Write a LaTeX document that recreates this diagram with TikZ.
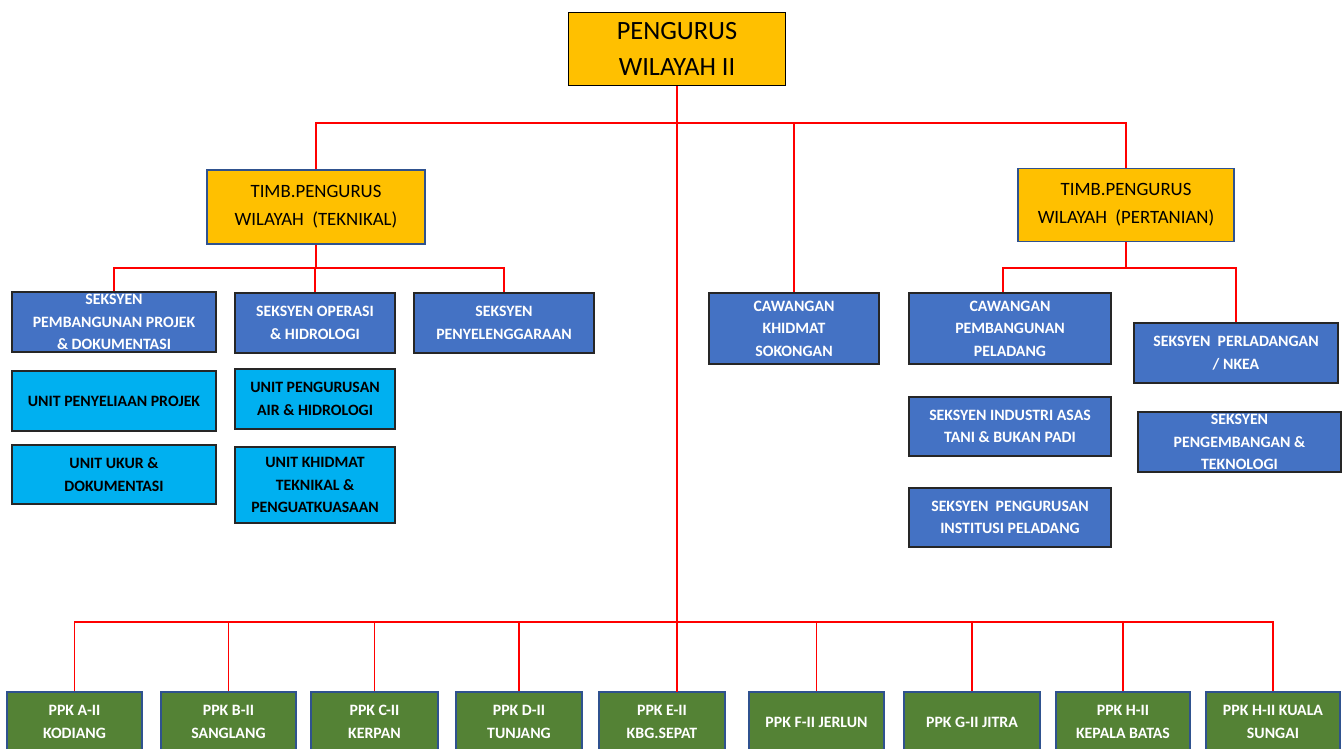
\documentclass[tikz,border=0pt]{standalone}
\usepackage{fontspec}
\setmainfont{Carlito}
\definecolor{gold}{HTML}{FFC000}
\definecolor{bluebox}{HTML}{4472C4}
\definecolor{cyanbox}{HTML}{00B0F0}
\definecolor{greenbox}{HTML}{548235}
\definecolor{navyline}{HTML}{2F528F}
\tikzstyle{head} = [rectangle, draw=black, line width=1pt, fill=gold, align=center, font=\fontsize{15}{21}\selectfont]
\tikzstyle{deputy} = [rectangle, draw=navyline, line width=1pt, fill=gold, align=center, font=\fontsize{10.7}{16}\selectfont]
\tikzstyle{seksyen} = [rectangle, draw=black!85, line width=1pt, fill=bluebox, text=white, align=center, font=\bfseries\fontsize{9}{12.8}\selectfont]
\tikzstyle{unit} = [rectangle, draw=black!85, line width=1pt, fill=cyanbox, text=black, align=center, font=\bfseries\fontsize{9}{12.8}\selectfont]
\tikzstyle{ppk} = [rectangle, draw=navyline, line width=1pt, fill=greenbox, text=white, align=center, minimum height=1.2cm, font=\bfseries\fontsize{9}{12.8}\selectfont]
\tikzstyle{link} = [red, line width=1pt]

\begin{document}
\begin{tikzpicture}[x=0.02cm,y=-0.02cm]
\useasboundingbox (0,0) rectangle (1343,749);
% top level
\node[head, minimum width=4.34cm, minimum height=1.46cm] (pw) at (677,49) {PENGURUS\\WILAYAH II};
\node[deputy, minimum width=4.36cm, minimum height=1.48cm] (tl) at (316,207) {TIMB.PENGURUS\\WILAYAH\ \ (TEKNIKAL)};
\node[deputy, minimum width=4.32cm, minimum height=1.46cm] (tr) at (1126,205) {TIMB.PENGURUS\\WILAYAH\ \ (PERTANIAN)};
\node[seksyen, minimum width=3.4cm, minimum height=1.42cm] (ck) at (794,328.5) {CAWANGAN\\KHIDMAT\\SOKONGAN};
% teknikal
\node[seksyen, inner ysep=0pt, minimum width=4.08cm, minimum height=1.2cm] (s1) at (114,322) {SEKSYEN\\PEMBANGUNAN PROJEK\\\& DOKUMENTASI};
\node[seksyen, minimum width=3.2cm, minimum height=1.2cm] (s2) at (315,323) {SEKSYEN OPERASI\\\& HIDROLOGI};
\node[seksyen, minimum width=3.6cm, minimum height=1.2cm] (s3) at (504,323) {SEKSYEN\\PENYELENGGARAAN};
\node[unit, minimum width=4.08cm, minimum height=1.2cm] (u1) at (114,401) {UNIT PENYELIAAN PROJEK};
\node[unit, minimum width=4.08cm, minimum height=1.18cm] (u2) at (114,474.5) {UNIT UKUR \&\\DOKUMENTASI};
\node[unit, minimum width=3.2cm, minimum height=1.2cm] (u3) at (315,399) {UNIT PENGURUSAN\\AIR \& HIDROLOGI};
\node[unit, minimum width=3.2cm, minimum height=1.52cm] (u4) at (315,485) {UNIT KHIDMAT\\TEKNIKAL \&\\PENGUATKUASAAN};
% pertanian
\node[seksyen, minimum width=4.04cm, minimum height=1.42cm] (cp) at (1010,328.5) {CAWANGAN\\PEMBANGUNAN\\PELADANG};
\node[seksyen, minimum width=4.08cm, minimum height=1.2cm] (sp) at (1236,353) {SEKSYEN\ \ PERLADANGAN\\/ NKEA};
\node[seksyen, minimum width=4.04cm, minimum height=1.18cm] (si) at (1010,426.5) {SEKSYEN INDUSTRI ASAS\\TANI \& BUKAN PADI};
\node[seksyen, minimum width=4.04cm, minimum height=1.18cm] (sn) at (1010,517.5) {SEKSYEN\ \ PENGURUSAN\\INSTITUSI PELADANG};
\node[seksyen, inner ysep=0pt, minimum width=4.06cm, minimum height=1.2cm] (sg) at (1239.5,442) {SEKSYEN\\PENGEMBANGAN \&\\TEKNOLOGI};
% ppk row
\node[ppk, minimum width=2.7cm] (pa) at (74.5,722) {PPK A-II\\KODIANG};
\node[ppk, minimum width=2.7cm] (pb) at (228.5,722) {PPK B-II\\SANGLANG};
\node[ppk, minimum width=2.54cm] (pc) at (374.5,722) {PPK C-II\\KERPAN};
\node[ppk, minimum width=2.52cm] (pd) at (519,722) {PPK D-II\\TUNJANG};
\node[ppk, minimum width=2.52cm] (pe) at (662,722) {PPK E-II\\KBG.SEPAT};
\node[ppk, minimum width=2.7cm] (pf) at (816.5,722) {PPK F-II JERLUN};
\node[ppk, minimum width=2.72cm] (pg) at (972,722) {PPK G-II JITRA};
\node[ppk, minimum width=2.68cm] (ph) at (1123,722) {PPK H-II\\KEPALA BATAS};
\node[ppk, minimum width=2.68cm] (pk) at (1273,722) {PPK H-II KUALA\\SUNGAI};
% red lines
\coordinate (tbus) at (0,123);
\coordinate (lbus) at (0,268);
\coordinate (rbus) at (0,268);
\coordinate (bbus) at (0,622);
\coordinate (trunk) at (677,692);
\draw[link] (pw.south) -- (trunk);
\draw[link] (tl.north) -- (tl.north |- tbus) -| (tr.north);
\draw[link] (ck.north) -- (ck.north |- tbus);
\draw[link] (tl.south) -- (tl.south |- lbus);
\draw[link] (s1.north) -- (s1.north |- lbus) -| (s3.north);
\draw[link] (s2.north) -- (s2.north |- lbus);
\draw[link] (tr.south) -- (tr.south |- rbus);
\draw[link] ([xshift=-0.14cm]cp.north) -- ([xshift=-0.14cm]cp.north |- rbus) -| (sp.north);
\draw[link] (pa.north) -- (pa.north |- bbus) -| (pk.north);
\draw[link] (pb.north) -- (pb.north |- bbus);
\draw[link] (pc.north) -- (pc.north |- bbus);
\draw[link] (pd.north) -- (pd.north |- bbus);
\draw[link] (pf.north) -- (pf.north |- bbus);
\draw[link] (pg.north) -- (pg.north |- bbus);
\draw[link] (ph.north) -- (ph.north |- bbus);
\end{tikzpicture}
\end{document}
